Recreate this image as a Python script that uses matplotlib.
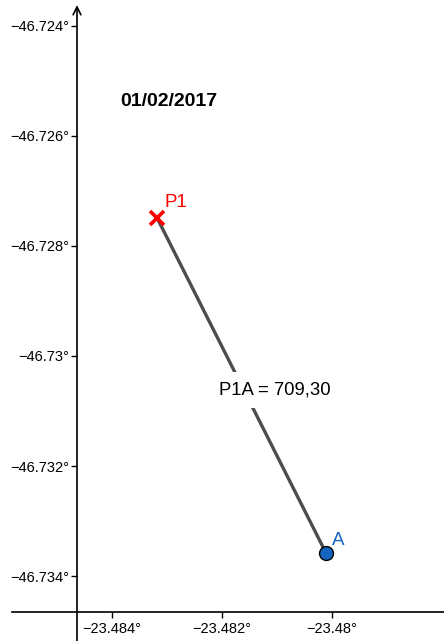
import matplotlib.pyplot as plt

plt.rcParams['font.family'] = ['Liberation Sans', 'DejaVu Sans']

# points (longitude-like x, latitude-like y)
p1 = (-23.48318, -46.72749)
pa = (-23.48011, -46.73358)
dist_label = "P1A = 709,30"
date_label = "01/02/2017"

x_ticks = [-23.484, -23.482, -23.480]
x_tick_labels = ["\u221223.484\u00b0", "\u221223.482\u00b0", "\u221223.48\u00b0"]
y_ticks = [-46.724, -46.726, -46.728, -46.730, -46.732, -46.734]
y_tick_labels = ["\u221246.724\u00b0", "\u221246.726\u00b0", "\u221246.728\u00b0",
                 "\u221246.73\u00b0", "\u221246.732\u00b0", "\u221246.734\u00b0"]

# view window (equal scale, 55000 px per unit)
xlim = (-23.4860364, -23.4779636)
ylim = (-46.7351818, -46.7235273)
x_axis_at = -46.7346545
y_axis_at = -23.4846364

fig = plt.figure(figsize=(4.44, 6.41), dpi=100)
ax = fig.add_axes([0, 0, 1, 1])
ax.set_xlim(*xlim)
ax.set_ylim(*ylim)

for s in ['top', 'right', 'left', 'bottom']:
    ax.spines[s].set_visible(False)

# axis lines with arrows
ax.annotate('', xy=(y_axis_at, -46.72362), xytext=(y_axis_at, ylim[0]),
            arrowprops=dict(arrowstyle='->', lw=1.2, color='black',
                            shrinkA=0, shrinkB=0, mutation_scale=14))
ax.plot([-23.485818, xlim[1]], [x_axis_at, x_axis_at], color='black', lw=1.2,
        clip_on=False)

ax.set_xticks(x_ticks)
ax.set_xticklabels(x_tick_labels)
ax.set_yticks(y_ticks)
ax.set_yticklabels(y_tick_labels)
ax.tick_params(direction='out', length=4, width=1, labelsize=10.5)
ax.tick_params(axis='y', pad=1.5)
ax.tick_params(axis='x', pad=3)
# move ticks onto the drawn axis lines
ax.spines['left'].set_position(('data', y_axis_at))
ax.spines['bottom'].set_position(('data', x_axis_at))

# segment
ax.plot([p1[0], pa[0]], [p1[1], pa[1]], color='#4d4d4d', lw=2.4,
        solid_capstyle='butt', zorder=2)

# points
ax.plot(*p1, marker='x', color='#ff0000', ms=10, mew=2.6, zorder=4)
ax.plot(*pa, marker='o', color='#1565c0', mec='black', mew=1.0, ms=10, zorder=4)

ax.annotate("P1", p1, xytext=(5, 8), textcoords='offset points',
            color='#ff0000', fontsize=13.5)
ax.annotate("A", pa, xytext=(4, 6), textcoords='offset points',
            color='#1565c0', fontsize=13.5)

ax.text(-23.4810364, -46.7306182, dist_label, fontsize=13.3, ha='center',
        va='center', zorder=3,
        bbox=dict(boxstyle='square,pad=0.5', fc='white', ec='none'))

ax.text(-23.4838545, -46.7253818, date_label, fontsize=14, fontweight='bold',
        ha='left', va='center')

fig.savefig('out.png', dpi=100)
